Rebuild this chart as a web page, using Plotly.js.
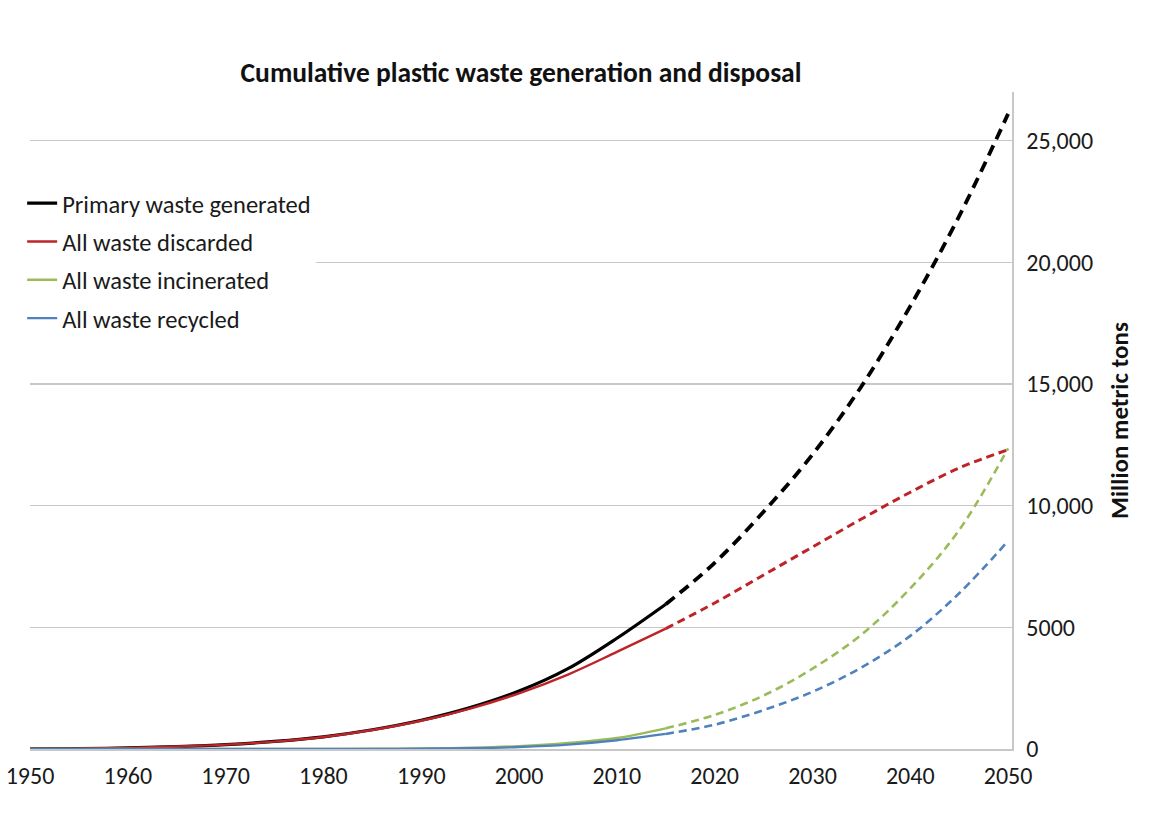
<!DOCTYPE html>
<html>
<head>
<meta charset="utf-8">
<script src="https://cdn.plot.ly/plotly-3.0.1.min.js"></script>
<style>
  html, body { margin: 0; padding: 0; background: #ffffff; }
  #chart { width: 1168px; height: 832px; }
</style>
</head>
<body>
<div id="chart"></div>
<script>
// ---- Data (million metric tons, cumulative) ----
const yearsHist = [1950, 1955, 1960, 1965, 1970, 1975, 1980, 1985, 1990, 1995, 2000, 2005, 2010, 2015];
const yearsProj = [2015, 2020, 2025, 2030, 2035, 2040, 2045, 2050];

const primaryHist    = [2, 15, 45, 100, 180, 310, 500, 790, 1180, 1700, 2380, 3300, 4550, 5950];
const primaryProj    = [5950, 7650, 9750, 12100, 14900, 18200, 21900, 26100];

const discardedHist  = [2, 15, 45, 100, 178, 305, 495, 780, 1160, 1660, 2290, 3060, 3990, 4950];
const discardedProj  = [4950, 6000, 7150, 8300, 9450, 10550, 11550, 12300];

const incineratedHist = [0, 0, 0, 0, 1, 2, 5, 10, 20, 50, 120, 250, 450, 850];
const incineratedProj = [850, 1400, 2200, 3300, 4700, 6600, 9000, 12350];

const recycledHist   = [0, 0, 0, 0, 0, 1, 3, 6, 10, 30, 80, 180, 360, 620];
const recycledProj   = [620, 1000, 1600, 2350, 3350, 4650, 6400, 8550];

const seriesNames = ["Primary waste generated", "All waste discarded", "All waste incinerated", "All waste recycled"];
const yTickVals = [0, 5000, 10000, 15000, 20000, 25000];
const yTickText = ["0", "5000", "10,000", "15,000", "20,000", "25,000"];
const xTickVals = [1950, 1960, 1970, 1980, 1990, 2000, 2010, 2020, 2030, 2040, 2050];

// ---- Styles ----
const FONT = "Carlito, Lato, 'Open Sans', sans-serif";
const styles = [
  {color: "#000000", wSolid: 3.2, wDash: 3.8, dash: "11px,7px"},
  {color: "#BE2328", wSolid: 2.4, wDash: 3.0, dash: "8px,5px"},
  {color: "#9BBB59", wSolid: 2.4, wDash: 2.6, dash: "8px,5px"},
  {color: "#4F81BD", wSolid: 2.4, wDash: 2.6, dash: "8px,5px"}
];
const hist = [primaryHist, discardedHist, incineratedHist, recycledHist];
const proj = [primaryProj, discardedProj, incineratedProj, recycledProj];

const traces = [];
for (let i = 0; i < 4; i++) {
  const s = styles[i];
  traces.push({
    x: yearsHist, y: hist[i], type: "scatter", mode: "lines",
    name: seriesNames[i], legendgroup: "g" + i, showlegend: true,
    line: {color: s.color, width: s.wSolid, shape: "spline", smoothing: 1},
    hoverinfo: "x+y+name"
  });
  traces.push({
    x: yearsProj, y: proj[i], type: "scatter", mode: "lines",
    name: seriesNames[i], legendgroup: "g" + i, showlegend: false,
    line: {color: s.color, width: s.wDash, dash: s.dash, shape: "spline", smoothing: 1},
    hoverinfo: "x+y+name"
  });
}

const layout = {
  width: 1168, height: 832,
  paper_bgcolor: "#ffffff", plot_bgcolor: "#ffffff",
  margin: {l: 30, r: 156, t: 92, b: 83},
  font: {family: FONT, color: "#1a1a1a"},
  title: {
    text: "Cumulative plastic waste generation and disposal",
    font: {family: FONT, size: 27.5, color: "#111111", weight: "bold"},
    x: 0.5, xref: "paper", xanchor: "center",
    y: 1 - 72 / 832, yref: "container", yanchor: "middle"
  },
  xaxis: {
    range: [1950, 2050.4],
    tickmode: "array", tickvals: xTickVals,
    showgrid: false, zeroline: false,
    showline: true, linecolor: "#C8C8C8", linewidth: 1.5,
    ticks: "", ticklabelstandoff: 5,
    tickfont: {family: FONT, size: 24, color: "#1a1a1a"},
    fixedrange: true
  },
  yaxis: {
    side: "right",
    range: [0, 27000],
    tickmode: "array", tickvals: yTickVals, ticktext: yTickText,
    showgrid: true, gridcolor: "#C8C8C8", gridwidth: 1.5,
    zeroline: false,
    showline: true, linecolor: "#C8C8C8", linewidth: 1.5,
    ticks: "", ticklabelstandoff: 8,
    tickfont: {family: FONT, size: 24, color: "#1a1a1a"},
    title: {text: "Million metric tons", standoff: 18,
            font: {family: FONT, size: 25, color: "#111111", weight: "bold"}},
    fixedrange: true
  },
  legend: {
    x: -0.008, xref: "paper", xanchor: "left",
    y: 0.865, yanchor: "top",
    bgcolor: "#ffffff", borderwidth: 0,
    font: {family: FONT, size: 24.5, color: "#1a1a1a"},
    traceorder: "grouped", tracegroupgap: 3.5,
    itemwidth: 30
  },
  showlegend: true
};

Plotly.newPlot("chart", traces, layout, {displayModeBar: false, staticPlot: true});
</script>
</body>
</html>
